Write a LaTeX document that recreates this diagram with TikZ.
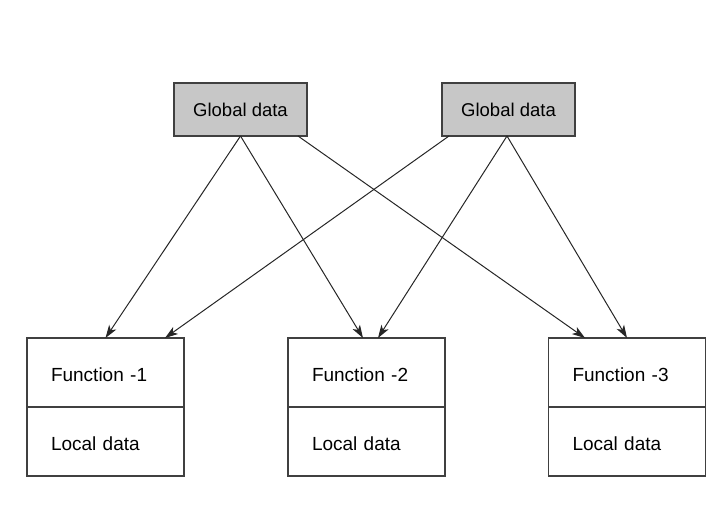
\documentclass[tikz,border=0pt]{standalone}
\usepackage{fontspec}
\setmainfont{Liberation Sans}
\usetikzlibrary{positioning, arrows.meta}

\begin{document}
\begin{tikzpicture}[x=1pt,y=-1pt,>={Stealth[length=13pt,width=8.5pt,inset=3.5pt]},
    globalbox/.style={draw=black!75, line width=1.3pt, fill=black!22,
        minimum width=133pt, minimum height=53pt, inner sep=0pt, outer sep=0pt,
        font=\fontsize{18.5}{22}\selectfont},
    funbox/.style={draw=black!75, line width=1.3pt, fill=white,
        text width=109pt, inner xsep=24pt, inner ysep=0pt, outer sep=0pt, align=left,
        text height=18.6pt, text depth=0pt,
        minimum height=69pt, font=\fontsize{19}{22}\selectfont},
    flow/.style={->, line width=1pt, black!85}]
        % keep the page as large as the picture
        \useasboundingbox (0,0) rectangle (722,517);

        % the shared data on top
        \node[globalbox] (glob1) at (240.5,109.5) {Global\ data};
        \node[globalbox] (glob2) at (508.5,109.5) {Global\ data};

        % the three functions with their own data
        \node[funbox] (fun1) at (105.5,372.5) {Function -1};
        \node[funbox,below=0pt of fun1] (loc1) {Local data};
        \node[funbox] (fun2) at (366.5,372.5) {Function -2};
        \node[funbox,below=0pt of fun2] (loc2) {Local data};
        \node[funbox] (fun3) at (627,372.5) {Function -3};
        \node[funbox,below=0pt of fun3] (loc3) {Local data};

        % every function can reach both global data
        \draw[flow] (glob1.south) -- (fun1.north);
        \draw[flow] (glob1.south) -- ([xshift=-3.5pt]fun2.north);
        \draw[flow] ([xshift=57.5pt]glob1.south) -- ([xshift=-42pt]fun3.north);
        \draw[flow] ([xshift=-59.5pt]glob2.south) -- ([xshift=59.5pt]fun1.north);
        \draw[flow] ([xshift=-1.5pt]glob2.south) -- ([xshift=11.5pt]fun2.north);
        \draw[flow] ([xshift=-1.5pt]glob2.south) -- (fun3.north);
\end{tikzpicture}
\end{document}
